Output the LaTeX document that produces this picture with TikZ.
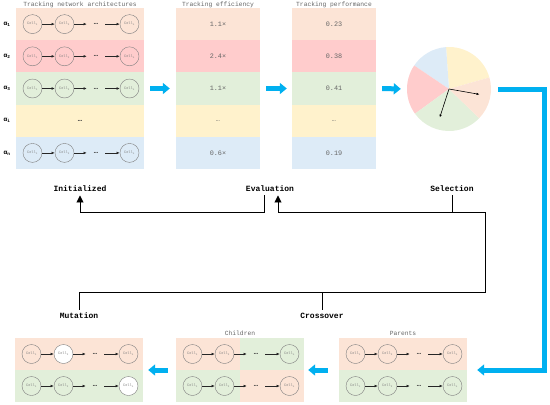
\documentclass[tikz,border=0pt]{standalone}
\usepackage{amsmath,amssymb}
\usepackage{fontspec}
\setmainfont{Liberation Mono}
\usepackage{tikz}
\usetikzlibrary{arrows.meta,positioning}
\usepackage{xcolor}

\definecolor{peach}{HTML}{FCE4D6}
\definecolor{rosy}{HTML}{FFCCCC}
\definecolor{sage}{HTML}{E2EFDA}
\definecolor{cream}{HTML}{FFF2CC}
\definecolor{sky}{HTML}{DDEBF7}
\definecolor{flow}{HTML}{00B0F0}

% one chain of cells: name, left x, centre y, fill of cell 2, fill of cell n
\newcommand{\cellrow}[5]{%
  \node[cell] (#1c1) at (#2+16.5,#3) {Cell\textsubscript{1}};
  \node[cell, fill=#4] (#1c2) at (#2+48.5,#3) {Cell\textsubscript{2}};
  \node[celldots] (#1d) at (#2+80,#3) {\dots};
  \node[cell, fill=#5] (#1cn) at (#2+113.5,#3) {Cell\textsubscript{n}};
  \path (#1c1) edge (#1c2) (#1c2) edge (#1d) (#1d) edge (#1cn);
}

\begin{document}
\begin{tikzpicture}[x=1pt, y=-1pt]
\tikzset{cell/.style={circle, draw=gray, thin, minimum size=19pt, inner sep=0pt, font=\fontsize{3.6}{4}\selectfont, text=gray},
  celldots/.style={minimum width=18pt, inner sep=0pt, font=\fontsize{7}{8}\selectfont\bfseries, text=black!75},
  every edge/.style={draw, black!85, line width=.7pt, -{Latex[length=3.2pt,width=2.8pt]}},
  heading/.style={font=\fontsize{6.3}{7}\selectfont, text=black!60},
  score/.style={font=\fontsize{6.8}{8}\selectfont, text=black!60},
  rowlabel/.style={font=\fontsize{6.3}{7}\selectfont\bfseries},
  step label/.style={font=\fontsize{8}{9}\selectfont\bfseries},
  panel/.style={minimum width=128pt, minimum height=#1, inner sep=0pt},
  bluearrow/.style={draw=flow, line width=5pt, -{Triangle[length=7pt,width=11pt]}},
  blackline/.style={draw, line width=.9pt},
  pointer/.style={draw, line width=.6pt, -{Latex[length=3pt,width=2.4pt]}}}
\useasboundingbox (0,0) rectangle (550,405);

% top row of panels
\node[panel=161pt] (arch) at (80,88.5) {};
\node[panel=161pt, minimum width=84pt] (eff) at (218,88.5) {};
\node[panel=161pt, minimum width=84pt] (perf) at (334,88.5) {};
\foreach \c [count=\i] in {peach,rosy,sage,cream,sky} {
  \fill[\c] (16,{8+32.2*(\i-1)}) rectangle +(128,32.2);
  \fill[\c] (176,{8+32.2*(\i-1)}) rectangle +(84,32.2);
  \fill[\c] (292,{8+32.2*(\i-1)}) rectangle +(84,32.2);
}
\node[heading] (archtitle) at (80,5) {Tracking network architectures};
\node[heading] (efftitle) at (218,5) {Tracking efficiency};
\node[heading] (perftitle) at (334,5) {Tracking performance};

\node[rowlabel] (alpha1) at (7,24.1) {α\textsubscript{1}};
\node[rowlabel] (alpha2) at (7,56.3) {α\textsubscript{2}};
\node[rowlabel] (alpha3) at (7,88.5) {α\textsubscript{3}};
\node[rowlabel] (alpha4) at (7,120.7) {α\textsubscript{i}};
\node[rowlabel] (alpha5) at (7,152.9) {α\textsubscript{n}};
\node[score] (eff1) at (218,24.1) {1.1×};
\node[score] (eff2) at (218,56.3) {2.4×};
\node[score] (eff3) at (218,88.5) {1.1×};
\node[score] (eff4) at (218,120.7) {…};
\node[score] (eff5) at (218,152.9) {0.6×};
\node[score] (perf1) at (334,24.1) {0.23};
\node[score] (perf2) at (334,56.3) {0.38};
\node[score] (perf3) at (334,88.5) {0.41};
\node[score] (perf4) at (334,120.7) {…};
\node[score] (perf5) at (334,152.9) {0.19};

\cellrow{r1}{16}{24.1}{none}{none}
\cellrow{r2}{16}{56.3}{none}{none}
\cellrow{r3}{16}{88.5}{none}{none}
\node[celldots] (r4d) at (80,120.7) {\dots};
\cellrow{r5}{16}{152.9}{none}{none}

% roulette wheel
\node[circle, minimum size=84pt, inner sep=0pt] (wheel) at (449,89) {};
\foreach \c/\sa/\ea in {cream/16/94, sky/94/146, rosy/146/216, sage/216/316, peach/316/376}
  \fill[\c] (wheel.center) -- +(-\sa:42) arc[start angle=-\sa, end angle=-\ea, radius=42] -- cycle;
\coordinate (tip1) at ([shift={(10:31)}]wheel.center);
\coordinate (tip2) at ([shift={(108:30)}]wheel.center);
\draw[pointer] (wheel.center) -- (tip1);
\draw[pointer] (wheel.center) -- (tip2);

\draw[bluearrow, shorten <=6pt, shorten >=6pt] (arch.east) -- (eff.west);
\draw[bluearrow, shorten <=6pt, shorten >=5pt] (eff.east) -- (perf.west);
\draw[bluearrow, shorten <=6pt, shorten >=6pt] (perf.east) -- (wheel.west);

% bottom row of panels
\node[panel=64pt] (mutpanel) at (79,370) {};
\node[panel=64pt] (childpanel) at (240,370) {};
\node[panel=64pt] (parpanel) at (403,370) {};
\fill[peach] (15,338) rectangle (143,370);
\fill[sage] (15,370) rectangle (143,402);
\fill[peach] (176,338) rectangle (240,370);
\fill[sage] (240,338) rectangle (304,370);
\fill[sage] (176,370) rectangle (240,402);
\fill[peach] (240,370) rectangle (304,402);
\fill[peach] (339,338) rectangle (467,370);
\fill[sage] (339,370) rectangle (467,402);
\node[heading] (childtitle) at (240,333) {Children};
\node[heading] (partitle) at (403,333) {Parents};

\cellrow{m1}{15}{354}{white}{none}
\cellrow{m2}{15}{386}{none}{white}
\cellrow{c1}{176}{354}{none}{none}
\cellrow{c2}{176}{386}{none}{none}
\cellrow{p1}{339}{354}{none}{none}
\cellrow{p2}{339}{386}{none}{none}

\coordinate (bend) at (544,370);
\draw[bluearrow, shorten <=7pt, shorten >=10pt] (wheel.east) -| (bend) -- (parpanel.east);
\draw[bluearrow, shorten <=11pt, shorten >=4pt] (parpanel.west) -- (childpanel.east);
\draw[bluearrow, shorten <=8pt, shorten >=5pt] (childpanel.west) -- (mutpanel.east);

% genetic loop
\node[step label] (init) at (80,189) {Initialized};
\node[step label] (eval) at (270,189) {Evaluation};
\node[step label] (sel) at (452,189) {Selection};
\node[step label] (mut) at (79,316) {Mutation};
\node[step label] (cross) at (322,316) {Crossover};
\coordinate (rim1) at (485,292);
\coordinate (rim2) at (485,212);
\draw[blackline, -{Triangle[length=7pt,width=7pt]}] ([xshift=-6pt]eval.south) |- (init.south |- rim2) -- (init.south);
\draw[blackline, -{Triangle[length=7pt,width=7pt]}] (mut.north) |- (rim1) -- (rim2) -| ([xshift=8pt]eval.south);
\draw[blackline] (sel.south) -- (sel.south |- rim2);
\draw[blackline] (cross.north) -- (cross.north |- rim1);
\end{tikzpicture}
\end{document}
